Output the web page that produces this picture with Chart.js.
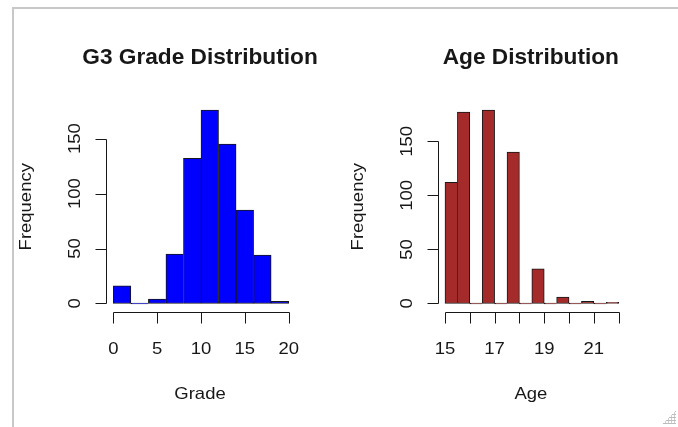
<!DOCTYPE html>
<html>
<head>
<meta charset="utf-8">
<script src="https://cdn.jsdelivr.net/npm/chart.js@4.4.0/dist/chart.umd.min.js"></script>
<style>
html,body{margin:0;padding:0;background:#fff;width:678px;height:427px;overflow:hidden;}
#frame{position:absolute;left:12px;top:7px;width:670px;height:430px;border-left:2px solid #c8c8c8;border-top:2px solid #c8c8c8;}
#grip{position:absolute;left:662px;top:410px;width:14px;height:14px;
  background:
    linear-gradient(135deg, rgba(255,255,255,1) 50%, rgba(255,255,255,0) 50%),
    repeating-linear-gradient(0deg, #bdbdbd 0 1px, transparent 1px 3px),
    repeating-linear-gradient(90deg, #cfcfcf 0 1px, transparent 1px 3px);}
canvas{position:absolute;top:0;}
</style>
</head>
<body>
<div id="frame"></div>
<div id="grip"></div>
<canvas id="c1" width="339" height="427" style="left:0px"></canvas>
<canvas id="c2" width="339" height="427" style="left:339px"></canvas>
<script>
// ---------- data ----------
const gradeTitle = "G3 Grade Distribution";
const gradeXLabel = "Grade";
const gradeBinStarts = [0, 2, 4, 6, 8, 10, 12, 14, 16, 18];
const gradeBinWidth = 2;
const gradeCounts = [16, 0, 4, 45, 132, 176, 145, 85, 44, 2];
const gradeXTicks = [0, 5, 10, 15, 20];
const gradeXTickLabels = ["0", "5", "10", "15", "20"];

const ageTitle = "Age Distribution";
const ageXLabel = "Age";
const ageBinStarts = [15, 15.5, 16, 16.5, 17, 17.5, 18, 18.5, 19, 19.5, 20, 20.5, 21, 21.5];
const ageBinWidth = 0.5;
const ageCounts = [112, 177, 0, 179, 0, 140, 0, 32, 0, 6, 0, 2, 0, 1];
const ageXTicks = [15, 16, 17, 18, 19, 20, 21, 22];
const ageXTickLabels = ["15", "", "17", "", "19", "", "21", ""];

const yLabel = "Frequency";
const yTicks = [0, 50, 100, 150];
const yTickLabels = ["0", "50", "100", "150"];

// ---------- styling ----------
const INK = "#171717";
const FONT = '"Liberation Sans", Arial, sans-serif';

function stretchedText(ctx, text, x, y, font, sx, align) {
  ctx.save();
  ctx.font = font;
  ctx.textBaseline = "alphabetic";
  ctx.textAlign = align || "center";
  ctx.translate(x, y);
  ctx.scale(sx, 1);
  ctx.fillText(text, 0, 0);
  ctx.restore();
}

function rAxes(cfg) {
  return {
    id: "rAxes",
    afterDraw(chart) {
      const ctx = chart.ctx, a = chart.chartArea;
      const xs = chart.scales.x, ys = chart.scales.y;
      ctx.save();
      ctx.strokeStyle = INK;
      ctx.fillStyle = INK;
      ctx.lineWidth = 1;
      const L = Math.round(a.left) + 0.5;
      const B = Math.round(a.bottom) + 1.5;
      const yp = v => Math.round(ys.getPixelForValue(v)) + 0.5;
      const xp = v => Math.round(xs.getPixelForValue(v)) + 0.5;
      ctx.beginPath();
      // y axis
      ctx.moveTo(L, yp(cfg.yTicks[0]));
      ctx.lineTo(L, yp(cfg.yTicks[cfg.yTicks.length - 1]));
      cfg.yTicks.forEach(v => { ctx.moveTo(L, yp(v)); ctx.lineTo(L - 11, yp(v)); });
      // x axis
      ctx.moveTo(xp(cfg.xTicks[0]), B);
      ctx.lineTo(xp(cfg.xTicks[cfg.xTicks.length - 1]), B);
      cfg.xTicks.forEach(v => { ctx.moveTo(xp(v), B); ctx.lineTo(xp(v), B + 11); });
      ctx.stroke();

      const regFont = "16.5px " + FONT;
      const sx = 1.12;
      // x tick labels
      cfg.xTicks.forEach((v, i) => {
        const t = cfg.xTickLabels[i];
        if (t) stretchedText(ctx, t, xs.getPixelForValue(v), a.bottom + 43, regFont, sx);
      });
      // y tick labels (rotated)
      cfg.yTicks.forEach((v, i) => {
        ctx.save();
        ctx.translate(a.left - 26, ys.getPixelForValue(v));
        ctx.rotate(-Math.PI / 2);
        stretchedText(ctx, cfg.yTickLabels[i], 0, 0, regFont, sx);
        ctx.restore();
      });
      // axis titles
      const cx = (a.left + a.right) / 2;
      stretchedText(ctx, cfg.xLabel, cx - 1, a.bottom + 88, regFont, sx);
      ctx.save();
      ctx.translate(a.left - 75.5, (a.top + a.bottom) / 2);
      ctx.rotate(-Math.PI / 2);
      stretchedText(ctx, cfg.yLabel, 0, 0, regFont, sx);
      ctx.restore();
      // main title
      stretchedText(ctx, cfg.title, cx - 1, 63.5, "bold 22px " + FONT, 1.03);
      ctx.restore();
    }
  };
}

function makeHist(canvasId, cfg) {
  const counts = cfg.counts;
  const data = cfg.binStarts.map((s, i) => ({ x: s + cfg.binWidth / 2, y: counts[i] }));
  return new Chart(document.getElementById(canvasId), {
    type: "bar",
    data: {
      datasets: [{
        data: data,
        backgroundColor: cfg.color,
        borderColor: INK,
        borderSkipped: false,
        minBarLength: 1,
        borderWidth: (c) => {
          const i = c.dataIndex;
          const next = counts[i + 1];
          const right = (next === undefined || next < counts[i]) ? 1 : 0;
          return { top: 1, left: 1, bottom: 1, right: right };
        },
        barPercentage: 1,
        categoryPercentage: 1
      }]
    },
    options: {
      responsive: false,
      animation: false,
      devicePixelRatio: 1,
      layout: { padding: cfg.padding },
      plugins: { legend: { display: false }, tooltip: { enabled: false }, title: { display: false } },
      events: [],
      scales: {
        x: { type: "linear", display: false, offset: false, min: cfg.xMin, max: cfg.xMax },
        y: { type: "linear", display: false, min: cfg.yMin, max: cfg.yMax }
      }
    },
    plugins: [rAxes(cfg)]
  });
}

const gMax = Math.max(...gradeCounts);
makeHist("c1", {
  title: gradeTitle, xLabel: gradeXLabel, yLabel: yLabel,
  binStarts: gradeBinStarts, binWidth: gradeBinWidth, counts: gradeCounts,
  color: "#0000ff",
  xTicks: gradeXTicks, xTickLabels: gradeXTickLabels,
  yTicks: yTicks, yTickLabels: yTickLabels,
  xMin: -0.8, xMax: 20.8, yMin: -0.04 * gMax, yMax: gMax * 1.04,
  padding: { left: 106.3, right: 339 - 295.7, top: 102.3, bottom: 427 - 311.2 }
});

const aMax = Math.max(...ageCounts);
makeHist("c2", {
  title: ageTitle, xLabel: ageXLabel, yLabel: yLabel,
  binStarts: ageBinStarts, binWidth: ageBinWidth, counts: ageCounts,
  color: "#a52a2a",
  xTicks: ageXTicks, xTickLabels: ageXTickLabels,
  yTicks: yTicks, yTickLabels: yTickLabels,
  xMin: 14.72, xMax: 22.28, yMin: -0.04 * aMax, yMax: aMax * 1.04,
  padding: { left: 438.05 - 339, right: 339 - (625.6 - 339), top: 102.3, bottom: 427 - 311.2 }
});
</script>
</body>
</html>
